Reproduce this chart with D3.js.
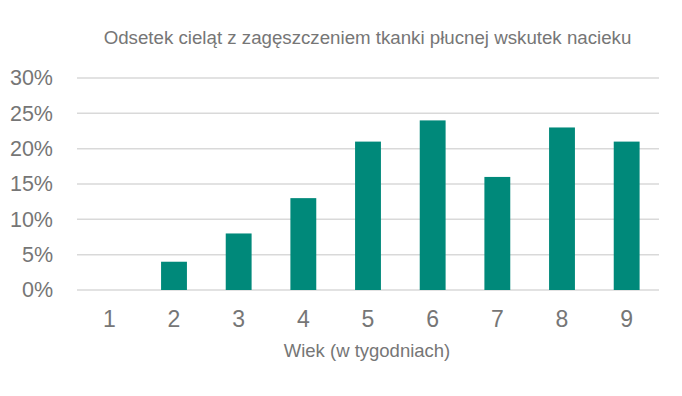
<!DOCTYPE html>
<html>
<head>
<meta charset="utf-8">
<script src="https://cdn.jsdelivr.net/npm/d3@7"></script>
<style>
    body { margin: 0; background: #fff; }
    text { font-family: "Liberation Sans", Arial, sans-serif; fill: #767676; }
</style>
</head>
<body>
<svg id="chart"></svg>
<script>
"use strict";

const weeks = ["1", "2", "3", "4", "5", "6", "7", "8", "9"];
const shares = [0, 0.04, 0.08, 0.13, 0.21, 0.24, 0.16, 0.23, 0.21];
const yTicks = [0, 0.05, 0.10, 0.15, 0.20, 0.25, 0.30];
const chartTitle = "Odsetek cieląt z zagęszczeniem tkanki płucnej wskutek nacieku";
const xTitle = "Wiek (w tygodniach)";

const width = 682;
const height = 396;
const margin = { top: 78, right: 23, bottom: 106, left: 77 };
const BAR_COLOR = "#00897a";

const svg = d3.select("#chart")
    .attr("width", width)
    .attr("height", height);

const x = d3.scaleBand()
    .domain(weeks)
    .range([margin.left, width - margin.right])
    .paddingInner(0.6)
    .paddingOuter(0.3);

const y = d3.scaleLinear()
    .domain([0, 0.30])
    .range([height - margin.bottom, margin.top]);

// gridlines
svg.append("g")
    .selectAll("line")
    .data(yTicks)
    .join("line")
    .attr("x1", margin.left)
    .attr("x2", width - margin.right)
    .attr("y1", (d) => y(d))
    .attr("y2", (d) => y(d))
    .attr("stroke", "#d9d9d9")
    .attr("stroke-width", 1.5);

// y axis labels
const yAxis = d3.axisLeft(y)
    .tickValues(yTicks)
    .tickFormat(d3.format(".0%"))
    .tickSize(0)
    .tickPadding(24);
svg.append("g")
    .attr("transform", `translate(${margin.left},0)`)
    .call(yAxis)
    .call((g) => g.select(".domain").remove())
    .selectAll("text")
    .attr("font-size", 21.5)
    .attr("fill", "#767676");

// bars
svg.append("g")
    .selectAll("rect")
    .data(weeks)
    .join("rect")
    .attr("x", (d) => x(d))
    .attr("width", x.bandwidth())
    .attr("y", (d, i) => y(shares[i]))
    .attr("height", (d, i) => y(0) - y(shares[i]))
    .attr("fill", BAR_COLOR);

// x axis labels
const xAxis = d3.axisBottom(x).tickSize(0).tickPadding(21);
svg.append("g")
    .attr("transform", `translate(0,${y(0)})`)
    .call(xAxis)
    .call((g) => g.select(".domain").remove())
    .selectAll("text")
    .attr("font-size", 23)
    .attr("fill", "#767676");

svg.append("text")
    .attr("x", 367)
    .attr("y", 357)
    .attr("text-anchor", "middle")
    .attr("font-size", 18.5)
    .text(xTitle);

svg.append("text")
    .attr("x", 367.5)
    .attr("y", 44)
    .attr("text-anchor", "middle")
    .attr("font-size", 18.7)
    .text(chartTitle);
</script>
</body>
</html>
